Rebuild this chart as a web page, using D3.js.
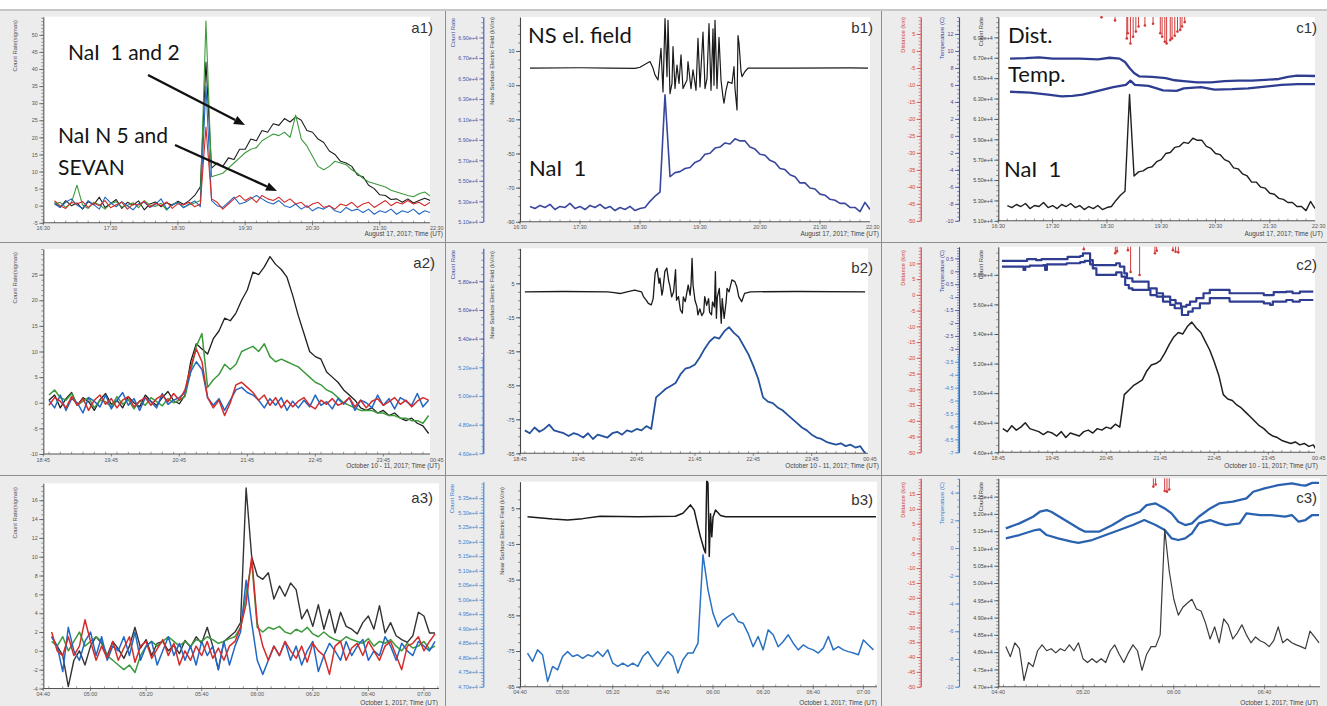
<!DOCTYPE html>
<html><head><meta charset="utf-8">
<script src="https://cdn.jsdelivr.net/npm/d3@7"></script>
<style>
body{margin:0;background:#fff}
svg{display:block}
text{font-family:"Liberation Sans",Arial,sans-serif}
.ann{font-family:Lato,"Open Sans",sans-serif;white-space:pre}
</style></head><body>
<svg id="chart" width="1327" height="706"></svg>
<script>
// ---------------- DATA ----------------
// time axis labels
const row1XLabels = ["16:30","17:30","18:30","19:30","20:30","21:30","22:30"];
const row2XLabels = ["18:45","19:45","20:45","21:45","22:45","23:45","00:45"];
const row3XLabels = ["04:40","05:00","05:20","05:40","06:00","06:20","06:40","07:00"];
const c3XLabels = ["04:40","05:20","06:00","06:40"];

// y tick values
const a1YTicks = [-5,0,5,10,15,20,25,30,35,40,45,50];
const a2YTicks = [-10,-5,0,5,10,15,20,25];
const a3YTicks = [-4,-2,0,2,4,6,8,10,12,14,16];
const b1FieldTicks = [-90,-70,-50,-30,-10,10];
const b2FieldTicks = [-95,-75,-55,-35,-15,5];
const b3FieldTicks = [-95,-75,-55,-35,-15,5];
const count1Ticks = [5.1,5.3,5.5,5.7,5.9,6.1,6.3,6.5,6.7,6.9];          // x 1e4
const count2Ticks = [4.6,4.8,5.0,5.2,5.4,5.6,5.8];                      // x 1e4
const b3CountTicks = [4.70,4.75,4.80,4.85,4.90,4.95,5.00,5.05,5.10,5.15,5.20,5.25,5.30,5.35];
const c3CountTicks = [4.70,4.75,4.80,4.85,4.90,4.95,5.00,5.05,5.10,5.15,5.20,5.25];
const c1DistTicks = [-50,-45,-40,-35,-30,-25,-20,-15,-10,-5,0,5];
const c2DistTicks = [-50,-45,-40,-35,-30,-25,-20,-15,-10,-5,0,5,10];
const c3DistTicks = [-50,-45,-40,-35,-30,-25,-20,-15,-10,-5,0,5,10,15];
const c1TempTicks = [-10,-8,-6,-4,-2,0,2,4,6,8,10,12];
const c2TempTicks = [-7,-6.5,-6,-5.5,-5,-4.5,-4,-3.5,-3,-2.5,-2,-1.5,-1,-0.5,0,0.5];
const c3TempTicks = [-10,-8,-6,-4,-2,0,2,4];

// a1: count rate (sigmas), 5-min samples from 16:40
const a1Start = "16:40", a1Step = 5;
const a1Black = [1,-0.5,1.5,0,0.8,-1,1.2,0.3,2.5,-0.5,0.6,1.8,-0.8,1,0.2,1.4,-1.2,0.5,1.1,-0.3,0.9,0.1,1.3,0.4,
  1.5,3,5.5,42,11,12.5,11.5,14,13.5,16.5,16.5,19.5,19,22,21.5,24,23.5,25.5,24.5,26,25,22,21.5,19.5,18.5,16,15,13,12.5,11.5,9,8.5,6,5,3.2,3,1.8,2,1,2,0.8,1.5,2.2,1.5];
const a1Green = [0.5,1,-0.5,0.8,6,0.2,-0.8,1,0.3,-1,0.6,1.2,-0.4,0.1,0.9,-0.6,1.5,0.2,-0.2,0.7,-1.3,0.4,1,-0.5,0.3,0.8,1.5,
  54,8.5,9,9.5,11,12.5,14,15.5,16.5,17,19,20,21,20.5,21.5,20,26.5,19.5,17.5,14.5,11.5,10.5,11.5,13,12.5,12,10.5,9.5,8,7,6.5,6,5.5,4.5,4,3.5,3,2.6,3.5,4,2.8];
const a1Blue = [0.5,-0.5,1,2,0.2,-0.8,1.5,0.3,-1,2.5,0.8,-0.3,1.2,0,-1.2,0.6,1,-0.5,0.4,2,-1,0.3,0.9,-0.6,0.5,1.4,-0.3,
  35,1.5,0,-0.5,1,2.5,0.5,1,2,3,2,1,0.5,1.5,0,-0.5,0.5,-1,0,-1.5,-0.5,-1,0,-1.5,-2,-0.5,-1.5,-1,-2,-1,-2.5,-1.5,-2,-1,-2.5,-1.5,-2,-1,-2.5,-1.5,-2];
const a1Red = [1.5,0,-0.8,1,0.5,1.2,-0.5,0.8,0,1.5,-0.6,0.3,1,-1,0.5,0.2,1.3,-0.4,0.7,0,1.1,-0.8,0.6,0.2,1,-0.3,0.5,
  23,2,1,-1,0.5,2,3,1.5,2.5,1,3,2,1.5,2.5,1,2,0.5,1,-0.5,0.5,1,-0.5,0,-1,0.5,0,1,-0.5,0.5,1,-0.5,0.5,1.5,0,1,0.5,1.5,0.5,1,0,1];

// NaI 1, August 17 (count rate / 1e4), 5-min samples from 16:40
const nai1Start = "16:40", nai1Step = 5;
const nai1 = [5.25,5.23,5.26,5.24,5.27,5.22,5.25,5.24,5.28,5.23,5.25,5.22,5.26,5.24,5.27,5.23,5.25,5.21,5.24,5.22,5.25,5.21,5.23,5.24,
  5.30,5.35,5.39,6.34,5.54,5.58,5.59,5.62,5.63,5.68,5.70,5.76,5.77,5.82,5.83,5.87,5.86,5.91,5.89,5.89,5.83,5.81,5.76,5.75,5.70,5.68,
  5.62,5.61,5.56,5.54,5.48,5.48,5.43,5.42,5.37,5.36,5.32,5.31,5.28,5.28,5.24,5.24,5.20,5.29,5.22];

// b1 near-surface electric field (kV/m)
const b1FieldTime = ["16:40","17:30","18:00","18:25","18:30","18:36","18:40","18:43","18:45","18:48","18:51","18:53","18:55","18:57","18:58","19:00","19:02","19:03","19:05","19:07",
  "19:09","19:11","19:13","19:17","19:18","19:21","19:23","19:26","19:28","19:30","19:33","19:35","19:37","19:39","19:41","19:43","19:44","19:45","19:47","19:49",
  "19:51","19:53","19:54","19:56","19:58","20:02","20:04","20:05","20:07","20:08","20:09","20:11","20:12","20:15","20:18","21:00","22:00","22:18"];
const b1FieldValue = [0,0.2,0,-0.2,0.5,2.5,3.8,0,-4,-7,11.5,-14,29,-5,28,-15,-9,12.5,-12,1.8,
  -9,7.7,-12,-7,3.8,-12,-1,-13,17.4,-11,21,-12,-6,26,-13,23,-10,28,-12,18,
  -7,-17,-20.6,-13,-8,-9,0.8,-12,-24.5,19,14.5,-2,-5,-2,0,0,0.1,0];

// c1 temperature (C) and lightning distance (km)
const c1TempUpperTime = ["16:43","17:00","17:15","17:30","18:00","18:20","18:33","18:44","18:50","18:55","19:00","19:06","19:20","19:35","19:45","19:55","20:10","20:25","20:40","20:55","21:10","21:25","21:40","21:50","22:00","22:22"];
const c1TempUpper = [9.1,9.15,9.25,9.1,9.1,9.0,9.2,9.1,8.7,8.0,7.4,7.0,6.95,6.8,6.55,6.45,6.3,6.3,6.45,6.5,6.5,6.6,6.7,6.95,7.1,7.05];
const c1TempLowerTime = ["16:43","17:05","17:25","17:40","17:52","18:03","18:18","18:37","18:51","18:56","19:01","19:16","19:25","19:32","19:47","19:55","20:14","20:29","20:48","21:06","21:25","21:43","22:01","22:22"];
const c1TempLower = [5.2,5.1,4.85,4.65,4.7,4.85,5.25,5.75,6.0,6.5,6.0,5.9,5.6,5.35,5.3,5.6,5.75,5.45,5.5,5.6,5.8,6.0,6.1,6.1];
const c1DistTime = ["18:24","18:39","18:52","18:53","18:56","18:59","19:02","19:05","19:12","19:21","19:29","19:31","19:34","19:36","19:40","19:42","19:45","19:48","19:51","19:53","19:56"];
const c1Dist = [9.9,9.0,3.7,5.2,2.2,4.2,5.7,7.2,7.5,8.0,5.2,4.2,2.7,2.2,3.2,3.7,4.5,5.7,6.2,7.2,8.5];

// a2: count rate (sigmas), 5-min samples from 18:50 (Oct 10-11)
const a2Start = "18:50", a2Step = 5;
const a2Black = [0.5,1.5,-1,0.8,2,-0.5,1,0.2,-1.5,0.6,1.8,-0.3,0.5,-1,1.2,0,-0.8,1.5,0.3,-0.5,1,2.2,0.4,-0.2,
  1.5,8,11.5,10.5,9.5,12.5,14,16.5,16,17.5,20,22,25.5,25,26.5,28.5,27,26,24.5,21,17,13.5,10,9,8.5,6,5,4,2.5,1.5,0.5,-1,-1.5,-1,-2,-1.5,-2.5,-2,-3,-3.5,-3,-4,-4.5,-6];
const a2Green = [1.5,2.5,1,0.5,1.8,-0.5,0.3,1,-1,0.5,0.2,-0.8,1.2,-0.3,0.6,-1.2,0.4,-0.5,1,0.2,-0.6,0.8,0,0.5,1.2,
  6,11,13.5,3,4.5,5.5,7.5,6.5,7.5,10,10.5,11,10,11.5,9,8,8.5,8,7.5,7,6,5,4,3.5,2.5,2,1,0,-0.5,-1,-1.5,-1.5,-1.5,-2,-2,-2.5,-2.5,-3,-3,-3.5,-3.5,-4,-2.5];
const a2Blue = [0.5,-1,1.5,-1.5,0.8,0,-2,1,0.3,-0.8,1.5,-1.2,0.5,2,-0.5,0.8,-1.5,1,0.2,-1,1.8,-0.3,0.5,1,2,6,8,6.5,1,-0.5,
  0.8,-1.5,0.5,2.5,3,2,1.5,0.5,-1,0.8,-0.5,1,-1.5,0.3,-1,0.5,-0.8,1.5,-0.5,0.2,-1.2,0.8,-0.3,1,-1.5,0.5,0,-1,1.5,-0.5,0.8,-1.2,1,0.3,-0.5,1.8,-0.8,0.5];
const a2Red = [-0.5,1,0.3,-1,1.2,-0.5,0.8,-1.5,0.5,1.5,-0.3,0.8,-1,0.5,1.2,-0.8,0.3,1,-0.5,0.8,1.5,0.2,1.8,0.5,2.5,7,10.5,8,1,-1,
  0.5,-2.5,0,3.5,4,3,2,0.5,1.5,-0.5,1,-1,0.5,-0.8,0.3,1,-0.5,-1.2,0.5,-0.3,0.8,-0.5,0,1,-0.8,0.5,-1,0.3,0.8,-0.5,0.2,1,-0.3,0.5,-0.8,0.3,1,0.5];

// NaI 1, October 10-11 (count rate / 1e4), 5-min samples from 18:50
const nai2Start = "18:50", nai2Step = 5;
const nai2 = [4.76,4.74,4.78,4.75,4.77,4.80,4.76,4.75,4.74,4.72,4.74,4.73,4.71,4.74,4.70,4.73,4.72,4.71,4.74,4.75,
  4.73,4.76,4.75,4.77,4.76,4.79,4.77,4.99,5.02,5.05,5.07,5.09,5.15,5.19,5.20,5.22,5.27,5.33,5.38,5.41,
  5.40,5.45,5.48,5.44,5.41,5.35,5.29,5.21,5.12,4.99,4.96,4.95,4.92,4.90,4.87,4.84,4.81,4.78,4.76,4.73,
  4.71,4.70,4.68,4.67,4.66,4.67,4.65,4.66,4.64,4.65,4.60];

// b2 electric field
const b2FieldTime = ["18:50","19:30","20:15","20:22","20:28","20:35","20:43","20:50","20:52","20:55","20:57","21:00","21:02","21:04","21:06","21:08","21:09","21:11","21:12","21:14",
  "21:16","21:18","21:19","21:21","21:23","21:25","21:26","21:28","21:30","21:32","21:33","21:35","21:38","21:40","21:41","21:42","21:43","21:45","21:47","21:48",
  "21:50","21:52","21:54","21:55","21:57","21:59","22:00","22:02","22:03","22:05","22:06","22:07","22:08","22:10","22:11","22:12","22:13","22:14","22:15","22:17",
  "22:18","22:20","22:23","22:26","22:28","22:30","22:33","22:36","22:42","23:30","24:40"];
const b2FieldValue = [0,0.2,0,-0.5,-1,0,1,0,-2.8,-5,-6.8,-7.7,-4,10.9,13.8,5,8,-2,1,12,
  14,6,4,-3,0,13,-5,-2.8,-10.7,-12.6,-3,-5.8,4,-2,5,19.7,4,-5,-8.7,-13.6,
  -10,-14,-12,-2.8,-8,-4,-12,-13.6,-6,-9,11.9,-15.6,-3,2,-8,-18.5,-4,-10,-15.6,-6,
  2,0,7,6,3,-2.8,-5.8,-0.9,0,0.2,0];

// c2 temperature and distance
const c2TempUpperTime = ["18:49","19:15","19:17","19:24","19:27","19:33","20:01","20:02","20:16","20:19","20:24","20:27","20:30","20:53","20:56","21:00","21:05","21:08","21:14","21:30",
  "21:32","21:41","21:48","21:56","22:02","22:08","22:14","22:18","22:25","22:33","22:40","22:59","23:02","23:21","23:40","23:50","23:51","24:05","24:12","24:20","24:35"];
const c2TempUpper = [0.40,0.40,0.47,0.47,0.43,0.47,0.47,0.56,0.59,0.69,0.69,0.43,0.24,0.24,0.31,0.18,-0.08,-0.27,-0.40,-0.40,
  -0.66,-0.85,-0.98,-1.11,-1.24,-1.37,-1.30,-1.17,-1.04,-0.85,-0.72,-0.72,-0.85,-0.85,-0.92,-0.92,-0.81,-0.79,-0.85,-0.79,-0.79];
const c2TempLowerTime = ["18:49","19:10","19:13","19:15","19:20","19:35","19:37","19:39","20:01","20:16","20:21","20:27","20:30","20:34","20:53","20:56","21:02","21:06","21:10","21:14",
  "21:30","21:34","21:41","21:48","21:56","22:01","22:09","22:16","22:21","22:29","22:40","22:59","23:02","23:21","23:40","23:47","23:50","24:05","24:12","24:20","24:35"];
const c2TempLower = [0.18,0.18,0.05,0.18,0.22,0.24,0.05,0.27,0.31,0.35,0.40,0.27,0.11,-0.14,-0.14,-0.04,-0.21,-0.53,-0.66,-0.72,
  -0.72,-0.92,-0.98,-1.17,-1.30,-1.43,-1.69,-1.56,-1.43,-1.24,-1.04,-1.04,-1.17,-1.17,-1.24,-1.30,-1.17,-1.11,-1.17,-1.11,-1.11];
const c2DistTime = ["20:20","20:55","20:57","21:09","21:12","21:22","21:39","21:41","21:59","22:02","22:05"];
const c2Dist = [14.5,13.2,13.8,14.2,7.3,6.3,13.2,14.0,14.2,13.7,13.5];

// a3: count rate (sigmas), 2-min samples from 04:46 (Oct 1)
const a3Start = "04:46", a3Step = 2;
const a3Black = [1.5,0.5,-0.5,-3.8,-1,0,-1.5,0.5,1.5,0.8,-0.5,1,0.2,-0.8,0.5,2.5,0.3,1.2,-0.5,0.8,1,0,0.6,-0.3,1.1,0.4,1.5,0.8,2.5,0.5,-2,1,1.5,
  2,3,17.3,10,8,7.6,8.3,5.5,6.9,5.8,7.2,6.5,3.4,4.4,2.6,4.9,2.3,4.4,1.9,4.1,2.6,2.3,1.8,3,3.7,2.3,4.8,1.9,3,1.6,1.2,0.9,1.6,4.1,3.7,1.9,1.9];
const a3Green = [1,0.5,1.5,0,1,2,0.5,1,1.5,1,-0.5,-1,-1.5,-2,-1.5,-2.3,-0.5,0.5,1,0.5,1,1.5,1,0.5,1,0.5,1.2,1,1.5,1.2,
  0.8,1,1.3,1.5,2.5,6,9.5,2.5,2,2.5,2.3,2.6,2,1.8,2.3,2,2.5,1.8,1.5,2,1.5,1.2,1,1.5,1.2,1,0.8,1.3,0.5,1,0.8,1.2,0.5,0,0.8,0.3,0.5,1,0.2,0.5];
const a3Blue = [1.5,0.5,-2.2,2.5,0,-1,1,2,-0.5,1.5,-1,0.5,0,1.5,-0.5,2,-1,0.5,1,-1.5,0,1.5,-0.5,0.8,-1,0.5,-1.5,1,-0.5,0.5,
  -2,1,-1.5,0.5,2,7.5,3,-1,-2.5,-1,0.5,-0.5,1,-1,0.5,-1.5,0,1,-2.2,-0.5,0.8,0,-1,1,-0.5,0.5,1.2,-1,0,-0.5,1.5,0.5,-1,0.8,0,-0.5,1,0.5,0,1];
const a3Red = [2,0,-0.5,1.5,-0.5,0.5,3.3,1,-1,0.5,-0.8,1,-1,0.3,1.5,-1.2,0.5,1,-0.8,0.2,1.2,-0.5,0.8,-1.5,0,-1,0.5,-0.5,1,-0.8,
  0.3,-1,0.5,1,2.5,5,10,3,0.5,-1,0.5,-0.5,1,0,-0.8,0.5,-1.2,0.8,0,-0.5,-2.5,0.5,1,-1,0.3,0.8,-0.5,1,0,-1,0.5,1,-0.5,-2,0.5,0.8,1.5,0,1,1.8];

// NaI 1, October 1 (count rate / 1e4), 2-min samples from 04:46
const nai3Start = "04:46", nai3Step = 2;
const nai3 = [4.816,4.787,4.827,4.81,4.718,4.77,4.758,4.804,4.821,4.804,4.81,4.798,4.81,4.804,4.821,4.804,4.827,4.781,4.77,4.781,
  4.77,4.781,4.77,4.804,4.821,4.793,4.77,4.798,4.821,4.804,4.747,4.793,4.816,4.816,4.85,5.155,5.034,4.953,4.907,4.93,
  4.942,4.953,4.925,4.919,4.884,4.838,4.873,4.827,4.896,4.879,4.838,4.856,4.879,4.85,4.827,4.844,4.833,4.827,4.816,4.833,
  4.873,4.827,4.838,4.827,4.821,4.816,4.81,4.861,4.844,4.827];

// b3 electric field
const b3FieldTime = ["04:46","04:56","05:02","05:08","05:15","05:30","05:45","05:48","05:51","05:52.5","05:54","05:55","05:56.5","05:57","05:57.5","05:58","05:58.5","05:59","05:59.5","06:00","06:01","06:03","06:05","07:05"];
const b3FieldValue = [0.3,-1.0,-1.5,-0.8,0.6,0.2,0.5,2.2,6.9,4,-5.3,-11,-18.4,-20,20.9,19,-22,2,-11,0,4,1,0.3,0.3];

// c3 temperature and distance
const c3TempUpperTime = ["04:46","04:52","04:58","05:01","05:04","05:06","05:12","05:18","05:21","05:27","05:33","05:39","05:45","05:48","05:52","05:56","05:59","06:02","06:05","06:08",
  "06:11","06:16","06:20","06:26","06:32","06:35","06:40","06:46","06:52","06:56","06:58","07:01","07:04"];
const c3TempUpper = [1.42,1.78,2.26,2.62,2.74,2.62,2.02,1.42,1.18,1.18,1.66,2.26,2.62,3.1,3.22,2.86,2.5,1.9,1.66,1.78,
  2.26,2.86,3.22,3.34,3.58,4.06,4.3,4.54,4.66,4.54,4.5,4.7,4.7];
const c3TempLowerTime = ["04:46","04:52","04:59","05:01","05:04","05:09","05:15","05:18","05:24","05:30","05:36","05:42","05:47","05:52","05:56","05:59","06:02","06:05","06:08","06:11",
  "06:16","06:20","06:23","06:29","06:32","06:38","06:43","06:49","06:52","06:55","06:58","07:01","07:04"];
const c3TempLower = [0.70,0.94,1.30,1.35,0.94,0.70,0.46,0.38,0.58,0.94,1.30,1.66,2.02,1.66,1.30,0.70,0.58,0.70,1.06,1.78,
  2.02,1.78,1.66,1.78,2.5,2.38,2.38,2.26,2.38,1.9,2.02,2.38,2.38];
const c3DistTime = ["05:51","05:52","05:56","05:57","05:58"];
const c3Dist = [17.5,18.2,16,15.8,16.5];

// ---------------- HELPERS ----------------
const T = s => { const p = s.split(":"); return +p[0] + parseFloat(p[1]) / 60; };
const sampleTimes = (start, stepMin, n) => d3.range(n).map(i => T(start) + i * stepMin / 60);
const zipT = (times, vals) => times.map((t, i) => ({t: typeof t === "string" ? T(t) : t, v: vals[i]}));
const locale = d3.formatLocale({decimal: ".", thousands: ",", grouping: [3], currency: ["", ""], minus: "-"});
const fNum = locale.format("");
const fExp = v => locale.format(".2e")(v * 1e4);

const C = {
  black: "#1f1f1f", green: "#3c9a3c", blue: "#2168c4", red: "#d42b2b",
  navy: "#2f3d91", naiB1: "#39479d", naiB2: "#24519e", naiB3: "#2c72c2",
  light: "#3a82d0", dist: "#d23a3a", axis: "#555", field: "#1a1a1a"
};

const svg = d3.select("#chart");
const defs = svg.append("defs");
svg.append("rect").attr("width", 1327).attr("height", 706).attr("fill", "#ececec");
svg.append("rect").attr("width", 1327).attr("height", 9).attr("fill", "#fff");
svg.append("line").attr("x1", 0).attr("x2", 1327).attr("y1", 10).attr("y2", 10).attr("stroke", "#c6c6c6").attr("stroke-width", 2);

const a1T = sampleTimes(a1Start, a1Step, a1Black.length);
const nai1T = sampleTimes(nai1Start, nai1Step, nai1.length);
const a2T = sampleTimes(a2Start, a2Step, a2Black.length);
const nai2T = sampleTimes(nai2Start, nai2Step, nai2.length);
const a3T = sampleTimes(a3Start, a3Step, a3Black.length);
const nai3T = sampleTimes(nai3Start, nai3Step, nai3.length);

function drawPanel(c) {
  const [bx0, by0, bx1, by1] = c.bounds;
  const [px0, py0, px1, py1] = c.plot;
  defs.append("clipPath").attr("id", "pb" + c.id).append("rect")
    .attr("x", bx0).attr("y", by0).attr("width", bx1 - bx0).attr("height", by1 - by0);
  defs.append("clipPath").attr("id", "pp" + c.id).append("rect")
    .attr("x", px0).attr("y", py0 - 1).attr("width", px1 - px0).attr("height", py1 - py0 + 1);
  const g = svg.append("g").attr("clip-path", `url(#pb${c.id})`);
  g.append("rect").attr("x", px0).attr("y", py0).attr("width", px1 - px0).attr("height", py1 - py0).attr("fill", "#fff");

  const t0 = T(c.xStart);
  const x = d3.scaleLinear().domain([t0, t0 + 1]).range([c.xPx, c.xPx + c.pxPerHour]);

  // y axes
  const ys = c.yAxes.map(a => {
    const y = d3.scaleLinear().domain(a.domain).range([py1, py0]);
    const colorOf = v => (a.split !== undefined && v < a.split) ? a.lowColor : a.color;
    const minorVals = d3.range(Math.ceil(a.domain[0] / a.minor - 1e-6) * a.minor, a.domain[1] + 1e-9, a.minor);
    const gm = g.append("g").attr("transform", `translate(${a.x},0)`)
      .call(d3.axisLeft(y).tickValues(minorVals).tickSize(2).tickSizeOuter(0).tickFormat(""));
    gm.select(".domain").attr("stroke", a.color).attr("stroke-width", 1.1);
    gm.selectAll(".tick line").attr("stroke", d => colorOf(d)).attr("stroke-width", 0.6);
    if (a.split !== undefined) {
      gm.append("line").attr("x1", 0).attr("x2", 0).attr("y1", y(a.split)).attr("y2", py1)
        .attr("stroke", a.lowColor).attr("stroke-width", 1.3);
    }
    const gM = g.append("g").attr("transform", `translate(${a.x},0)`)
      .call(d3.axisLeft(y).tickValues(a.ticks).tickSize(4).tickSizeOuter(0).tickPadding(1.5).tickFormat(a.fmt));
    gM.select(".domain").remove();
    gM.selectAll(".tick line").attr("stroke", d => colorOf(d)).attr("stroke-width", 0.8);
    gM.selectAll(".tick text").attr("fill", d => colorOf(d)).style("font-size", "5.4px")
      .style("font-family", "Liberation Sans, Arial, sans-serif");
    g.append("text").text(a.label)
      .attr("transform", `translate(${a.lx},${a.ly}) rotate(-90)`)
      .attr("text-anchor", "end").attr("dominant-baseline", "middle")
      .attr("fill", a.labelColor || a.color).style("font-size", "5.8px");
    return y;
  });

  // x axis
  const xg = g.append("g");
  xg.append("line").attr("x1", px0).attr("x2", px1).attr("y1", py1).attr("y2", py1)
    .attr("stroke", C.axis).attr("stroke-width", 1.1);
  const tEnd = x.invert(px1);
  const minorT = d3.range(Math.ceil(t0 * 60 / c.xMinor) * c.xMinor / 60, tEnd, c.xMinor / 60);
  xg.selectAll("line.mn").data(minorT).join("line").attr("class", "mn")
    .attr("x1", d => x(d)).attr("x2", d => x(d)).attr("y1", py1).attr("y2", py1 - 2.2)
    .attr("stroke", C.axis).attr("stroke-width", 0.6);
  const majors = c.xLabels.map(s => { let t = T(s); if (t < t0 - 1) t += 24; return {s, px: Math.max(px0, x(t))}; });
  xg.selectAll("line.mj").data(majors.filter(d => d.px <= px1 + 0.5)).join("line").attr("class", "mj")
    .attr("x1", d => d.px).attr("x2", d => d.px).attr("y1", py1).attr("y2", py1 + 2.5)
    .attr("stroke", C.axis).attr("stroke-width", 0.7);
  xg.selectAll("text.xl").data(majors).join("text").attr("class", "xl")
    .attr("x", d => d.px).attr("y", py1 + 7.6).attr("text-anchor", "middle")
    .attr("fill", "#555").style("font-size", "5.4px").text(d => d.s)
    .each(function(d) {
      // keep the label fully inside the panel
      const w = this.getComputedTextLength();
      let cx = d.px;
      if (cx + w / 2 > bx1 - 1.5) cx = bx1 - 1.5 - w / 2;
      if (cx - w / 2 < bx0 + 1.5) cx = bx0 + 1.5 + w / 2;
      d3.select(this).attr("x", cx);
    });

  // data
  const sg = g.append("g").attr("clip-path", `url(#pp${c.id})`);
  (c.stems || []).forEach(st => {
    const y = ys[st.axis];
    const d = zipT(st.t, st.v);
    sg.selectAll(null).data(d).join("line")
      .attr("x1", e => x(e.t)).attr("x2", e => x(e.t))
      .attr("y1", y(y.domain()[1])).attr("y2", e => y(e.v))
      .attr("stroke", C.dist).attr("stroke-width", 1);
    sg.selectAll(null).data(d).join("circle")
      .attr("cx", e => x(e.t)).attr("cy", e => y(e.v)).attr("r", 1.3).attr("fill", C.dist);
  });
  c.series.forEach(s => {
    const y = ys[s.axis];
    const line = d3.line().x(e => x(e.t)).y(e => y(e.v)).curve(s.step ? d3.curveStepAfter : d3.curveLinear);
    sg.append("path").datum(zipT(s.t, s.v)).attr("d", line)
      .attr("fill", "none").attr("stroke", s.color).attr("stroke-width", s.w)
      .attr("stroke-linejoin", "round");
  });

  // annotations
  (c.arrows || []).forEach(([x1, y1, x2, y2]) => {
    const ang = Math.atan2(y2 - y1, x2 - x1), L = 11, Wd = 4.5;
    const bx = x2 - L * Math.cos(ang), by = y2 - L * Math.sin(ang);
    g.append("line").attr("x1", x1).attr("y1", y1).attr("x2", bx).attr("y2", by)
      .attr("stroke", "#111").attr("stroke-width", 2.4);
    g.append("path").attr("d", `M${x2},${y2}L${bx - Wd * Math.sin(ang)},${by + Wd * Math.cos(ang)}L${bx + Wd * Math.sin(ang)},${by - Wd * Math.cos(ang)}Z`)
      .attr("fill", "#111");
  });
  (c.texts || []).forEach(tx => {
    g.append("text").attr("class", "ann").attr("x", tx.x).attr("y", tx.y)
      .attr("fill", "#151515").style("font-size", (tx.size || 21) + "px").text(tx.s);
  });
  g.append("text").text(c.tag[0]).attr("x", c.tag[1]).attr("y", c.tag[2]).attr("text-anchor", "end")
    .attr("fill", "#333").style("font-size", "15px");
  g.append("text").text(c.caption[0]).attr("x", c.caption[1]).attr("y", c.caption[2]).attr("text-anchor", "end")
    .attr("fill", "#444").style("font-size", "6.4px");
}

const capAug = "August 17, 2017; Time (UT)";
const capOct10 = "October 10 - 11, 2017; Time (UT)";
const capOct1 = "October 1, 2017; Time (UT)";

const panels = [
  { id: "a1", bounds: [0, 11, 445, 242], plot: [43.3, 16.7, 430, 222.8],
    xStart: "16:30", xPx: 43.3, pxPerHour: 67.3, xLabels: row1XLabels, xMinor: 10,
    yAxes: [{x: 43.3, domain: [-5, 55.3], ticks: a1YTicks, minor: 1, fmt: fNum, color: C.axis, label: "Count Rate(sigmas)", lx: 15, ly: 20}],
    series: [
      {axis: 0, t: a1T, v: a1Black, color: C.black, w: 1.1},
      {axis: 0, t: a1T, v: a1Green, color: C.green, w: 1.1},
      {axis: 0, t: a1T, v: a1Blue, color: C.blue, w: 1.1},
      {axis: 0, t: a1T, v: a1Red, color: C.red, w: 1.1}],
    texts: [{s: "NaI  1 and 2", x: 68, y: 60}, {s: "NaI N 5 and", x: 58, y: 143}, {s: "SEVAN", x: 58, y: 175}],
    arrows: [[148, 75, 245, 125], [175, 145, 277, 191]],
    tag: ["a1)", 433, 33], caption: [capAug, 443, 236] },
  { id: "b1", bounds: [446, 11, 881, 242], plot: [520, 17, 870, 221.8],
    xStart: "16:30", xPx: 520, pxPerHour: 60, xLabels: row1XLabels, xMinor: 10,
    yAxes: [
      {x: 483.3, domain: [5.1, 7.1], ticks: count1Ticks, minor: 0.05, fmt: fExp, color: "#4656a8", label: "Count Rate", lx: 453, ly: 18},
      {x: 520, domain: [-90, 29.9], ticks: b1FieldTicks, minor: 5, fmt: fNum, color: "#444", label: "Near Surface Electric Field (kV/m)", lx: 492, ly: 17}],
    series: [
      {axis: 1, t: b1FieldTime, v: b1FieldValue, color: C.field, w: 1.2},
      {axis: 0, t: nai1T, v: nai1, color: C.naiB1, w: 1.6}],
    texts: [{s: "NS el. field", x: 528, y: 43, size: 22}, {s: "NaI  1", x: 529, y: 176, size: 22}],
    tag: ["b1)", 873, 33], caption: [capAug, 879, 236] },
  { id: "c1", bounds: [882, 11, 1327, 242], plot: [998.3, 17, 1315, 220.8],
    xStart: "16:30", xPx: 998.3, pxPerHour: 54.3, xLabels: row1XLabels, xMinor: 10,
    yAxes: [
      {x: 920.7, domain: [-50, 10], ticks: c1DistTicks, minor: 1, fmt: fNum, color: C.dist, label: "Distance (km)", lx: 903, ly: 17},
      {x: 959, domain: [-10, 14], ticks: c1TempTicks, minor: 0.5, fmt: fNum, color: "#3b4a9c", label: "Temperature (C)", lx: 942, ly: 17},
      {x: 998.3, domain: [5.1, 7.1], ticks: count1Ticks, minor: 0.05, fmt: fExp, color: "#444", label: "Count Rate", lx: 981, ly: 17}],
    stems: [{axis: 0, t: c1DistTime, v: c1Dist}],
    series: [
      {axis: 1, t: c1TempUpperTime, v: c1TempUpper, color: C.navy, w: 2.3},
      {axis: 1, t: c1TempLowerTime, v: c1TempLower, color: C.navy, w: 2.3},
      {axis: 2, t: nai1T, v: nai1, color: C.black, w: 1.4}],
    texts: [{s: "Dist.", x: 1008, y: 43, size: 22}, {s: "Temp.", x: 1008, y: 82, size: 22}, {s: "NaI  1", x: 1004, y: 177, size: 22}],
    tag: ["c1)", 1317, 33], caption: [capAug, 1323, 236] },

  { id: "a2", bounds: [0, 243, 445, 475], plot: [43.3, 249, 430, 454],
    xStart: "18:45", xPx: 43.3, pxPerHour: 68, xLabels: row2XLabels, xMinor: 10,
    yAxes: [{x: 43.3, domain: [-10, 30], ticks: a2YTicks, minor: 1, fmt: fNum, color: C.axis, label: "Count Rate(sigmas)", lx: 15, ly: 252}],
    series: [
      {axis: 0, t: a2T, v: a2Black, color: C.black, w: 1.3},
      {axis: 0, t: a2T, v: a2Green, color: C.green, w: 1.5},
      {axis: 0, t: a2T, v: a2Blue, color: C.blue, w: 1.5},
      {axis: 0, t: a2T, v: a2Red, color: C.red, w: 1.5}],
    tag: ["a2)", 435, 268], caption: [capOct10, 440, 468] },
  { id: "b2", bounds: [446, 243, 881, 475], plot: [520, 248.3, 868, 453.3],
    xStart: "18:45", xPx: 520, pxPerHour: 58.33, xLabels: row2XLabels, xMinor: 10,
    yAxes: [
      {x: 483.3, domain: [4.6, 6.03], ticks: count2Ticks, minor: 0.05, fmt: fExp, color: "#3c4ea2", split: 5.27, lowColor: C.light, label: "Count Rate", lx: 453, ly: 250},
      {x: 520, domain: [-95, 25.6], ticks: b2FieldTicks, minor: 5, fmt: fNum, color: "#444", label: "Near Surface Electric Field (kV/m)", lx: 492, ly: 251}],
    series: [
      {axis: 1, t: b2FieldTime, v: b2FieldValue, color: C.field, w: 1.3},
      {axis: 0, t: nai2T, v: nai2, color: C.naiB2, w: 1.8}],
    tag: ["b2)", 873, 273], caption: [capOct10, 879, 468] },
  { id: "c2", bounds: [882, 243, 1327, 475], plot: [998.3, 246.7, 1315, 452.3],
    xStart: "18:45", xPx: 998.3, pxPerHour: 54, xLabels: row2XLabels, xMinor: 10,
    yAxes: [
      {x: 920.7, domain: [-50, 15.3], ticks: c2DistTicks, minor: 1, fmt: fNum, color: C.dist, label: "Distance (km)", lx: 903, ly: 250},
      {x: 959, domain: [-7, 0.95], ticks: c2TempTicks, minor: 0.1, fmt: fNum, color: "#3b4a9c", split: -3.25, lowColor: C.light, label: "Temperature (C)", lx: 942, ly: 250},
      {x: 998.3, domain: [4.6, 5.99], ticks: count2Ticks, minor: 0.05, fmt: fExp, color: "#444", label: "Count Rate", lx: 981, ly: 250}],
    stems: [{axis: 0, t: c2DistTime, v: c2Dist}],
    series: [
      {axis: 1, t: c2TempUpperTime, v: c2TempUpper, color: C.navy, w: 2.2, step: true},
      {axis: 1, t: c2TempLowerTime, v: c2TempLower, color: C.navy, w: 2.2, step: true},
      {axis: 2, t: nai2T, v: nai2, color: C.black, w: 1.5}],
    tag: ["c2)", 1317, 270], caption: [capOct10, 1318, 468] },

  { id: "a3", bounds: [0, 476, 445, 706], plot: [43.3, 483.3, 439, 688.5],
    xStart: "04:43", xPx: 43.3, pxPerHour: 166.7, xLabels: row3XLabels, xMinor: 5,
    yAxes: [{x: 43.3, domain: [-4, 17.8], ticks: a3YTicks, minor: 0.5, fmt: fNum, color: C.axis, label: "Count Rate(sigmas)", lx: 15, ly: 487}],
    series: [
      {axis: 0, t: a3T, v: a3Black, color: "#333", w: 1.4},
      {axis: 0, t: a3T, v: a3Green, color: C.green, w: 1.5},
      {axis: 0, t: a3T, v: a3Blue, color: C.blue, w: 1.5},
      {axis: 0, t: a3T, v: a3Red, color: C.red, w: 1.5}],
    tag: ["a3)", 433, 503], caption: [capOct1, 438, 705] },
  { id: "b3", bounds: [446, 476, 881, 706], plot: [520, 481.7, 877, 686.7],
    xStart: "04:43", xPx: 520, pxPerHour: 150.4, xLabels: row3XLabels, xMinor: 5,
    yAxes: [
      {x: 483.3, domain: [4.70, 5.407], ticks: b3CountTicks, minor: 0.01, fmt: fExp, color: C.light, label: "Count Rate", lx: 452, ly: 484},
      {x: 520, domain: [-95, 19.9], ticks: b3FieldTicks, minor: 5, fmt: fNum, color: "#444", label: "Near Surface Electric Field (kV/m)", lx: 502, ly: 487}],
    series: [
      {axis: 1, t: b3FieldTime, v: b3FieldValue, color: C.field, w: 1.5},
      {axis: 0, t: nai3T, v: nai3, color: C.naiB3, w: 1.5}],
    tag: ["b3)", 873, 505], caption: [capOct1, 877, 705] },
  { id: "c3", bounds: [882, 476, 1327, 706], plot: [998.3, 478.3, 1320, 686.7],
    xStart: "04:43", xPx: 999, pxPerHour: 136.2, xLabels: c3XLabels, xMinor: 5,
    yAxes: [
      {x: 920.7, domain: [-50, 20.3], ticks: c3DistTicks, minor: 1, fmt: fNum, color: C.dist, label: "Distance (km)", lx: 903, ly: 482},
      {x: 959, domain: [-10, 5.03], ticks: c3TempTicks, minor: 0.5, fmt: fNum, color: C.light, label: "Temperature (C)", lx: 942, ly: 482},
      {x: 998.3, domain: [4.70, 5.303], ticks: c3CountTicks, minor: 0.01, fmt: fExp, color: "#444", label: "Count Rate", lx: 981, ly: 482}],
    stems: [{axis: 0, t: c3DistTime, v: c3Dist}],
    series: [
      {axis: 1, t: c3TempUpperTime, v: c3TempUpper, color: "#2a62b0", w: 2.3},
      {axis: 1, t: c3TempLowerTime, v: c3TempLower, color: "#2a62b0", w: 2.3},
      {axis: 2, t: nai3T, v: nai3, color: "#3a3a3a", w: 1.2}],
    tag: ["c3)", 1317, 503], caption: [capOct1, 1318, 705] }
];

panels.forEach(drawPanel);

// panel separators
[445.5, 881.5].forEach(xv => svg.append("line").attr("x1", xv).attr("x2", xv).attr("y1", 11).attr("y2", 706).attr("stroke", "#8e8e8e"));
[242.5, 475.5].forEach(yv => svg.append("line").attr("x1", 0).attr("x2", 1327).attr("y1", yv).attr("y2", yv).attr("stroke", "#8e8e8e"));
</script>
</body></html>
